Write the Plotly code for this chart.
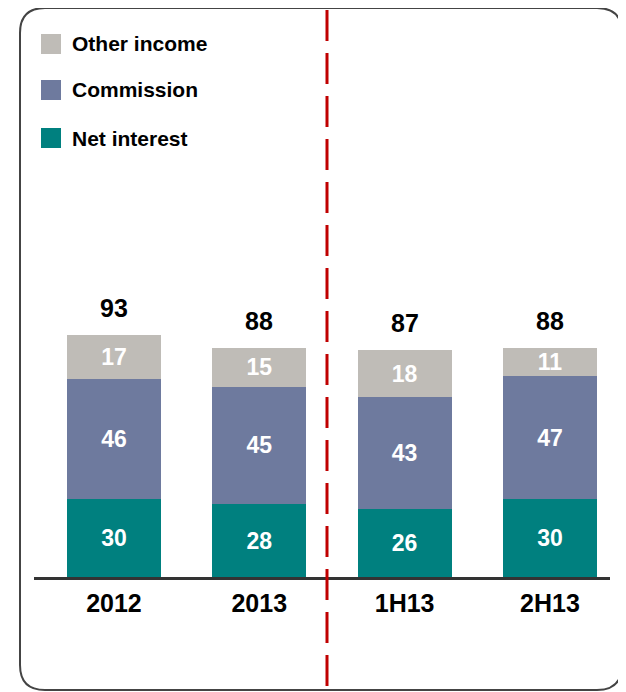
import plotly.graph_objects as go

categories = ["2012", "2013", "1H13", "2H13"]
net_interest = [30, 28, 26, 30]
commission = [46, 45, 43, 47]
other_income = [17, 15, 18, 11]
series_names = ["Net interest", "Commission", "Other income"]
series_colors = ["#00807F", "#6E7A9E", "#BFBCB7"]
series_values = [net_interest, commission, other_income]
totals = [a + b + c for a, b, c in zip(net_interest, commission, other_income)]

OFF = 8  # page body margin
W, H = 626 - OFF, 692 - OFF
ML, MR, MT, MB = 26, 16, 152, 115
PW, PH = W - ML - MR, H - MT - MB
FONT = "Liberation Sans, Arial, sans-serif"


def X(px):
    return (px - OFF - ML) / PW


def Y(py):
    return (H - MB - (py - OFF)) / PH


fig = go.Figure()
for name, color, vals in zip(series_names, series_colors, series_values):
    fig.add_trace(go.Bar(
        x=categories, y=vals, name=name,
        marker=dict(color=color, line=dict(width=0)),
        text=[str(v) for v in vals], textposition="inside",
        insidetextanchor="middle", textangle=0, constraintext="none",
        textfont=dict(family=FONT, size=23, color="white", weight="bold"),
        showlegend=False, hoverinfo="skip",
    ))

annotations = []
for i, tot in enumerate(totals):
    annotations.append(dict(
        x=i, y=tot, xref="x", yref="y", text=f"<b>{tot}</b>",
        showarrow=False, yanchor="bottom", yshift=11,
        font=dict(family=FONT, size=25, color="black"),
    ))

shapes = []
legend_y = [44, 90, 138]
for (name, color), ly in zip(reversed(list(zip(series_names, series_colors))), legend_y):
    shapes.append(dict(type="rect", xref="paper", yref="paper",
                       x0=X(41), x1=X(61), y0=Y(ly - 10), y1=Y(ly + 10),
                       fillcolor=color, line=dict(width=0)))
    annotations.append(dict(x=X(70), y=Y(ly), xref="paper", yref="paper",
                            xanchor="left", yanchor="middle", showarrow=False,
                            text=f"<b>{name}</b>",
                            font=dict(family=FONT, size=21, color="black")))

r = 25
bx0, bx1, by0, by1 = 20, 622, 8, 690
path = (f"M {X(bx0 + r)},{Y(by0)} L {X(bx1 - r)},{Y(by0)} "
        f"Q {X(bx1)},{Y(by0)} {X(bx1)},{Y(by0 + r)} "
        f"L {X(bx1)},{Y(by1 - r)} Q {X(bx1)},{Y(by1)} {X(bx1 - r)},{Y(by1)} "
        f"L {X(bx0 + r)},{Y(by1)} Q {X(bx0)},{Y(by1)} {X(bx0)},{Y(by1 - r)} "
        f"L {X(bx0)},{Y(by0 + r)} Q {X(bx0)},{Y(by0)} {X(bx0 + r)},{Y(by0)} Z")
shapes.append(dict(type="path", xref="paper", yref="paper", path=path,
                   line=dict(color="#444444", width=2), layer="below"))

shapes.append(dict(type="line", xref="paper", yref="paper",
                   x0=X(327), x1=X(327), y0=Y(10), y1=Y(692),
                   line=dict(color="#C00000", width=3, dash="31px,12px")))

fig.update_layout(
    width=W, height=H,
    margin=dict(l=ML, r=MR, t=MT, b=MB, pad=0),
    barmode="stack", bargap=0.353,
    plot_bgcolor="white", paper_bgcolor="white",
    showlegend=False,
    xaxis=dict(type="category", range=[-0.55, 3.413], showline=True,
               linecolor="#333333", linewidth=3, ticks="", showgrid=False,
               zeroline=False, ticklabelstandoff=2,
               tickfont=dict(family=FONT, size=25, color="black", weight="bold")),
    yaxis=dict(range=[0, 160], visible=False, showgrid=False, zeroline=False),
    annotations=annotations, shapes=shapes,
)

fig.write_html("out.html")
